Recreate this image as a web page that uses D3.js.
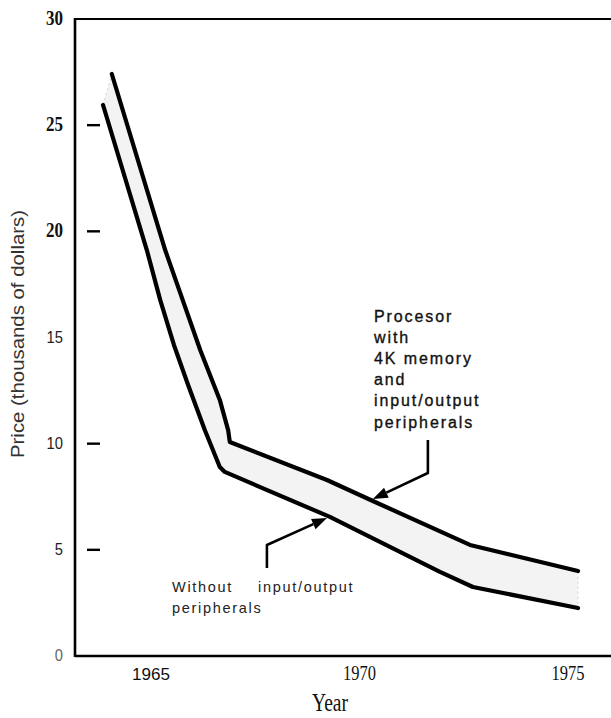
<!DOCTYPE html>
<html>
<head>
<meta charset="utf-8">
<script src="https://cdn.jsdelivr.net/npm/d3@7"></script>
<style>
  html, body { margin: 0; padding: 0; background: #fff; }
  svg { display: block; }
</style>
</head>
<body>
<svg id="chart" width="611" height="718"></svg>
<script>
// ---- data ----
const withIOYears  = [1964.06, 1965.34, 1965.70, 1966.18, 1966.65, 1966.85, 1966.89, 1969.22, 1970.32, 1972.65, 1975.24];
const withIOPrice  = [27.41, 19.12, 17.10, 14.41, 12.06, 10.64, 10.08, 8.29, 7.30, 5.23, 4.00];
const withoutYears = [1963.85, 1964.90, 1965.22, 1965.55, 1965.89, 1966.29, 1966.65, 1966.77, 1969.29, 1971.93, 1972.72, 1975.24];
const withoutPrice = [25.95, 19.12, 16.77, 14.65, 12.76, 10.64, 8.90, 8.67, 6.55, 3.96, 3.25, 2.26];

const yTickValues = [30, 25, 20, 15, 10, 5, 0];
const yTickLabels = ["30", "25", "20", "15", "10", "5", "0"];
const yTickSerif  = [true, true, true, false, false, false, false];
const yTickMarks  = [25, 20, 10, 5];
const xTickValues = [1965, 1970, 1975];
const xTickLabels = ["1965", "1970", "1975"];
const xTickSerif  = [false, true, true];

const labelWith    = ["Procesor", "with", "4K memory", "and", "input/output", "peripherals"];
const arrowWith    = [[1971.64, 10.17], [1971.64, 8.62], [1970.32, 7.39]];
const arrowWithout = [[1967.78, 4.14], [1967.78, 5.23], [1969.22, 6.50]];

// ---- scales ----
const x = d3.scaleLinear().domain([1965, 1975]).range([151, 568]);
const y = d3.scaleLinear().domain([0, 30]).range([656, 19]);

const svg = d3.select("#chart");
const upper = withIOYears.map((d, i) => [d, withIOPrice[i]]);
const lower = withoutYears.map((d, i) => [d, withoutPrice[i]]);
const line = d3.line().x(d => x(d[0])).y(d => y(d[1]));

// band between the two curves
const band = upper.concat(lower.slice().reverse());
svg.append("path")
  .attr("d", line(band) + "Z")
  .attr("fill", "#f3f3f3")
  .attr("stroke", "#c8c8c8")
  .attr("stroke-width", 0.8)
  .attr("stroke-dasharray", "2,3");

// axes frame
const x0 = 75, xEnd = 611;
svg.append("line").attr("x1", x0).attr("x2", x0).attr("y1", y(30) - 1).attr("y2", y(0) + 1)
  .attr("stroke", "#000").attr("stroke-width", 2.6);
svg.append("line").attr("x1", x0).attr("x2", xEnd).attr("y1", y(30)).attr("y2", y(30))
  .attr("stroke", "#000").attr("stroke-width", 2);
svg.append("line").attr("x1", x0).attr("x2", xEnd).attr("y1", y(0)).attr("y2", y(0))
  .attr("stroke", "#000").attr("stroke-width", 2.4);

// y tick marks
svg.selectAll(".ytm").data(yTickMarks).enter().append("line")
  .attr("x1", 87).attr("x2", 100)
  .attr("y1", d => y(d)).attr("y2", d => y(d))
  .attr("stroke", "#000").attr("stroke-width", 2.4);

// y tick labels
yTickValues.forEach((v, i) => {
  const t = svg.append("text")
    .attr("x", 63).attr("y", y(v) + 1)
    .attr("text-anchor", "end")
    .attr("dominant-baseline", "middle")
    .attr("fill", "#111")
    .text(yTickLabels[i]);
  if (yTickSerif[i]) {
    t.attr("font-family", "'Liberation Serif', 'Times New Roman', serif")
     .attr("font-size", 21).attr("font-weight", "bold")
     .attr("textLength", 17).attr("lengthAdjust", "spacingAndGlyphs");
  } else {
    t.attr("font-family", "'Liberation Sans', Arial, sans-serif")
     .attr("font-size", 17)
     .attr("fill", v === 0 ? "#666" : "#222")
     .attr("textLength", yTickLabels[i].length * 8.2).attr("lengthAdjust", "spacingAndGlyphs");
  }
});

// x tick labels
xTickValues.forEach((v, i) => {
  const t = svg.append("text")
    .attr("x", x(v)).attr("y", 680)
    .attr("text-anchor", "middle")
    .attr("fill", "#111")
    .text(xTickLabels[i]);
  if (xTickSerif[i]) {
    t.attr("font-family", "'Liberation Serif', 'Times New Roman', serif")
     .attr("font-size", 22)
     .attr("textLength", 33).attr("lengthAdjust", "spacingAndGlyphs");
  } else {
    t.attr("font-family", "'Liberation Sans', Arial, sans-serif")
     .attr("font-size", 17)
     .attr("textLength", 38).attr("lengthAdjust", "spacingAndGlyphs");
  }
});

// axis titles
svg.append("text")
  .attr("x", 330).attr("y", 711)
  .attr("text-anchor", "middle")
  .attr("font-family", "'Liberation Serif', 'Times New Roman', serif")
  .attr("font-size", 25)
  .attr("fill", "#111")
  .attr("textLength", 36).attr("lengthAdjust", "spacingAndGlyphs")
  .text("Year");

svg.append("text")
  .attr("transform", "translate(24,334) rotate(-90)")
  .attr("text-anchor", "middle")
  .attr("font-family", "'Liberation Sans', Arial, sans-serif")
  .attr("font-size", 19)
  .attr("fill", "#333")
  .attr("textLength", 248).attr("lengthAdjust", "spacingAndGlyphs")
  .text("Price (thousands of dollars)");

// curves
[upper, lower].forEach(pts => {
  svg.append("path")
    .attr("d", line(pts))
    .attr("fill", "none")
    .attr("stroke", "#000")
    .attr("stroke-width", 4.2)
    .attr("stroke-linejoin", "round")
    .attr("stroke-linecap", "round");
});

// arrows
function drawArrow(pts) {
  const p = pts.map(d => [x(d[0]), y(d[1])]);
  const n = p.length;
  const tip = p[n - 1], prev = p[n - 2];
  const ang = Math.atan2(tip[1] - prev[1], tip[0] - prev[0]);
  const len = 15, half = 5.5;
  const base = [tip[0] - len * Math.cos(ang), tip[1] - len * Math.sin(ang)];
  svg.append("path")
    .attr("d", d3.line()(p.slice(0, n - 1).concat([base])))
    .attr("fill", "none").attr("stroke", "#000").attr("stroke-width", 2.6)
    .attr("stroke-linejoin", "round");
  const left = [base[0] + half * Math.sin(ang), base[1] - half * Math.cos(ang)];
  const right = [base[0] - half * Math.sin(ang), base[1] + half * Math.cos(ang)];
  svg.append("path")
    .attr("d", d3.line()([tip, left, right]) + "Z")
    .attr("fill", "#000");
}
drawArrow(arrowWith);
drawArrow(arrowWithout);

// annotation labels
const lw = svg.append("text")
  .attr("font-family", "'Liberation Sans', Arial, sans-serif")
  .attr("font-size", 16)
  .attr("letter-spacing", 1.9)
  .attr("fill", "#111")
  .attr("stroke", "#111").attr("stroke-width", 0.35);
labelWith.forEach((s, i) => {
  lw.append("tspan").attr("x", 374).attr("y", 322 + i * 21.1).text(s);
});

const lo = svg.append("text")
  .attr("font-family", "'Liberation Sans', Arial, sans-serif")
  .attr("font-size", 14.5)
  .attr("letter-spacing", 1.7)
  .attr("fill", "#222");
lo.append("tspan").attr("x", 172).attr("y", 592).text("Without");
lo.append("tspan").attr("x", 258).attr("y", 592).text("input/output");
lo.append("tspan").attr("x", 172).attr("y", 613).text("peripherals");
</script>
</body>
</html>
